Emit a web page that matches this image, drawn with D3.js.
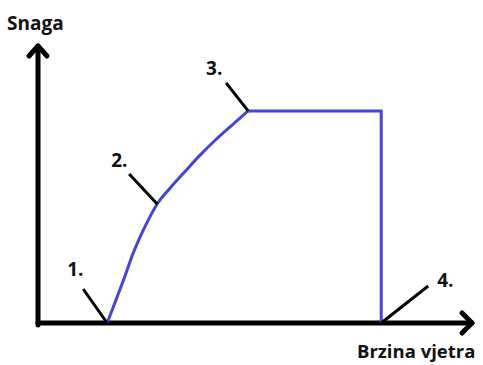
<!DOCTYPE html>
<html><head><meta charset="utf-8">
<script src="https://cdn.jsdelivr.net/npm/d3@7"></script>
<style>html,body{margin:0;padding:0;background:#fff;overflow:hidden}</style>
</head><body>
<script>
// Power curve (abstract units: wind speed 0-100, power 0-100)
const windSpeed = [15.9, 18.0, 20.0, 21.8, 23.9, 25.7, 27.4, 30.3, 33.8, 37.2, 40.9, 44.6, 48.3, 78.9, 78.9];
const power     = [0,    8.6,  16.9, 24.8, 32.4, 38.1, 42.8, 48.4, 54.5, 60.3, 66.0, 71.2, 76.3, 76.3, 0];
const markerLabels = ["1.", "2.", "3.", "4."];
const markerIndex  = [0, 6, 12, 14];
const yAxisTitle = "Snaga";
const xAxisTitle = "Brzina vjetra";

const W = 483, H = 365;
const svg = d3.select("body").append("svg").attr("width", W).attr("height", H);
const x = d3.scaleLinear().domain([0, 100]).range([38, 473]);
const y = d3.scaleLinear().domain([0, 100]).range([323, 45]);

const font = "'Open Sans', 'Liberation Sans', Arial, sans-serif";

// axes
const ax = svg.append("g").attr("stroke", "#000").attr("fill", "none")
  .attr("stroke-width", 5).attr("stroke-linecap", "round").attr("stroke-linejoin", "round");
ax.append("line").attr("x1", x(0)).attr("y1", y(0) + 2).attr("x2", x(0)).attr("y2", y(100) + 1);
ax.append("line").attr("x1", x(0)).attr("y1", y(0)).attr("x2", x(100) - 1).attr("y2", y(0));
ax.append("polyline").attr("points", [[x(0) - 9, y(100) + 11], [x(0), y(100) + 1], [x(0) + 9, y(100) + 11]].join(" "));
ax.append("polyline").attr("points", [[x(100) - 11, y(0) - 10], [x(100) - 1, y(0)], [x(100) - 11, y(0) + 10]].join(" "));

// curve: smooth rising part, then straight plateau and drop
const pts = windSpeed.map((w, i) => [w, power[i]]);
const rising = pts.slice(0, markerIndex[2] + 1);
const rest = pts.slice(markerIndex[2]);
svg.append("path").datum(rising)
  .attr("d", d3.line().curve(d3.curveMonotoneX).x(d => x(d[0])).y(d => y(d[1])))
  .attr("fill", "none").attr("stroke", "#4545d8").attr("stroke-width", 3);
svg.append("path").datum(rest)
  .attr("d", d3.line().x(d => x(d[0])).y(d => y(d[1])))
  .attr("fill", "none").attr("stroke", "#4545d8").attr("stroke-width", 3)
  .attr("stroke-linejoin", "miter");

// marker annotations
const tickOff = [[-24, -34], [-28, -30], [-22, -28], [47, -37]];
const textOff = [[-40, -47], [-46, -37], [-42, -36], [56, -36]];
markerIndex.forEach((idx, k) => {
  const px = x(windSpeed[idx]), py = y(power[idx]);
  svg.append("line").attr("x1", px).attr("y1", py)
    .attr("x2", px + tickOff[k][0]).attr("y2", py + tickOff[k][1])
    .attr("stroke", "#000").attr("stroke-width", 3);
  svg.append("text").attr("x", px + textOff[k][0]).attr("y", py + textOff[k][1])
    .attr("font-family", font).attr("font-weight", "bold").attr("font-size", 19)
    .attr("fill", "#111").text(markerLabels[k]);
});

svg.append("text").attr("x", 7).attr("y", 30).attr("font-family", font)
  .attr("font-weight", "bold").attr("font-size", 19).attr("fill", "#111").text(yAxisTitle);
svg.append("text").attr("x", 357).attr("y", 358).attr("font-family", font)
  .attr("font-weight", "bold").attr("font-size", 18.5).attr("fill", "#111").text(xAxisTitle);
</script>
</body></html>
